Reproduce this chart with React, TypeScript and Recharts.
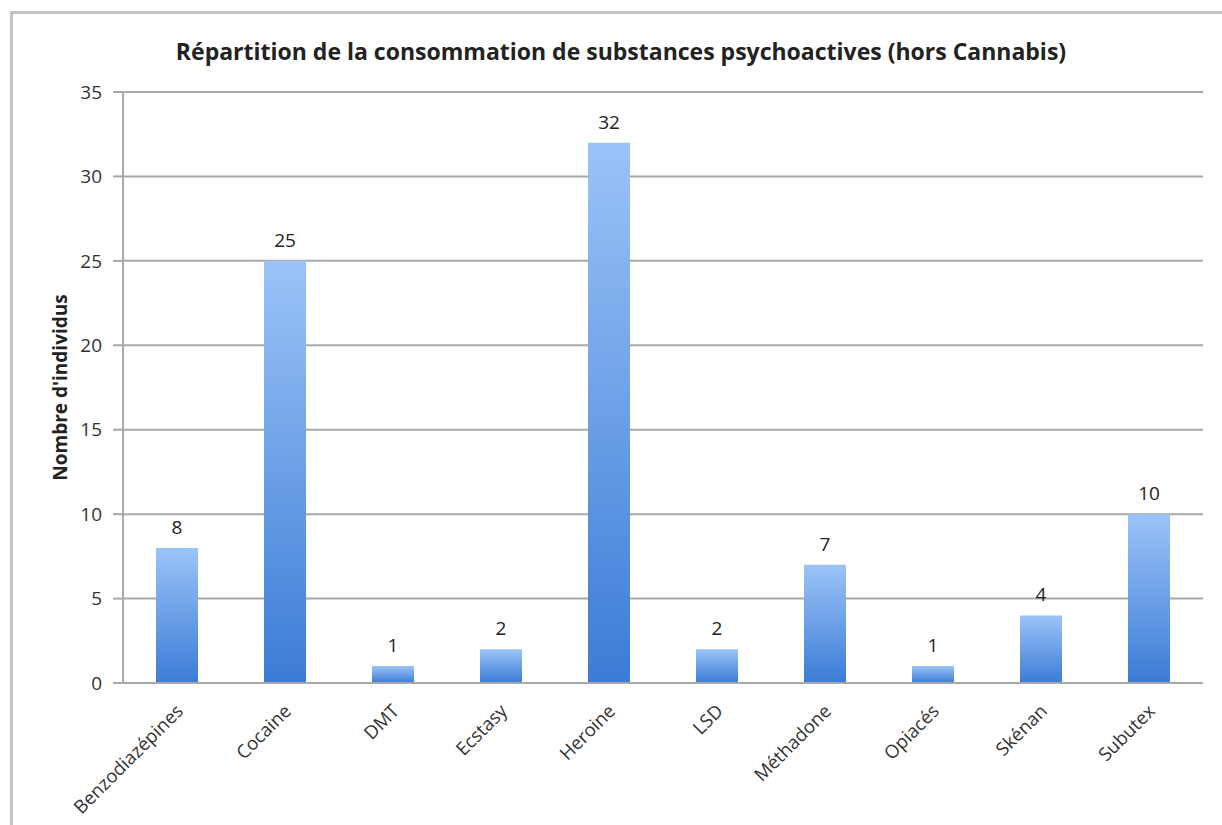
import { BarChart, Bar, XAxis, YAxis, CartesianGrid, LabelList } from 'recharts';

const substances = [
    'Benzodiazépines',
    'Cocaine',
    'DMT',
    'Ecstasy',
    'Heroine',
    'LSD',
    'Méthadone',
    'Opiacés',
    'Skénan',
    'Subutex',
];
const individus = [8, 25, 1, 2, 32, 2, 7, 1, 4, 10];
const yTicks = [0, 5, 10, 15, 20, 25, 30, 35];

const data = substances.map((name, i) => ({ name, value: individus[i] }));

const font = '"Open Sans", Lato, sans-serif';

const YTitle = (props: any) => {
    const { viewBox } = props;
    const cx = viewBox.x - 3;
    const cy = viewBox.y + viewBox.height / 2;
    return (
        <text
            x={cx}
            y={cy}
            transform={`rotate(-90, ${cx}, ${cy})`}
            textAnchor='middle'
            dominantBaseline='central'
            fontFamily={font}
            fontWeight='bold'
            fontSize={19}
            fill='#222'
        >
            Nombre d'individus
        </text>
    );
};

const App = () => {
    return (
        <div
            style={{
                position: 'absolute',
                left: 0,
                top: 0,
                width: 1222,
                height: 825,
                background: '#fff',
                overflow: 'hidden',
            }}
        >
            <div
                style={{
                    position: 'absolute',
                    left: 10,
                    top: 11,
                    width: 1230,
                    height: 830,
                    borderLeft: '3px solid #c4c4c4',
                    borderTop: '3px solid #c4c4c4',
                }}
            />
            <div
                style={{
                    position: 'absolute',
                    left: 0,
                    top: 35,
                    width: 1242,
                    textAlign: 'center',
                    fontFamily: font,
                    fontWeight: 'bold',
                    fontSize: 23,
                    color: '#222',
                }}
            >
                Répartition de la consommation de substances psychoactives (hors Cannabis)
            </div>
            <BarChart
                width={1222}
                height={825}
                data={data}
                margin={{ top: 92, right: 19, left: 63, bottom: 112 }}
                style={{ position: 'absolute', left: 0, top: 0 }}
            >
                <defs>
                    <linearGradient id='barFill' x1='0' y1='0' x2='0' y2='1'>
                        <stop offset='0%' stopColor='#9cc3f7' />
                        <stop offset='100%' stopColor='#3b7cd6' />
                    </linearGradient>
                </defs>
                <CartesianGrid vertical={false} stroke='#a8a8a8' strokeWidth={2} />
                <XAxis
                    dataKey='name'
                    height={30}
                    interval={0}
                    axisLine={{ stroke: '#a8a8a8', strokeWidth: 2 }}
                    tickLine={false}
                    angle={-45}
                    textAnchor='end'
                    tick={{ fontFamily: font, fontSize: 18.5, fill: '#333' }}
                    dx={-2}
                    dy={12}
                />
                <YAxis
                    width={60}
                    domain={[0, 35]}
                    ticks={yTicks}
                    interval={0}
                    axisLine={{ stroke: '#a8a8a8', strokeWidth: 2 }}
                    tickLine={{ stroke: '#a8a8a8', strokeWidth: 2 }}
                    tickSize={10}
                    tickMargin={11}
                    tick={{ fontFamily: font, fontSize: 19, fill: '#333' }}
                    label={{ content: YTitle }}
                />
                <Bar
                    dataKey='value'
                    fill='url(#barFill)'
                    barSize={42}
                    isAnimationActive={false}
                >
                    <LabelList
                        dataKey='value'
                        position='top'
                        offset={14}
                        fontFamily={font}
                        fontSize={19}
                        fill='#222'
                    />
                </Bar>
            </BarChart>
        </div>
    );
};

export default App;
